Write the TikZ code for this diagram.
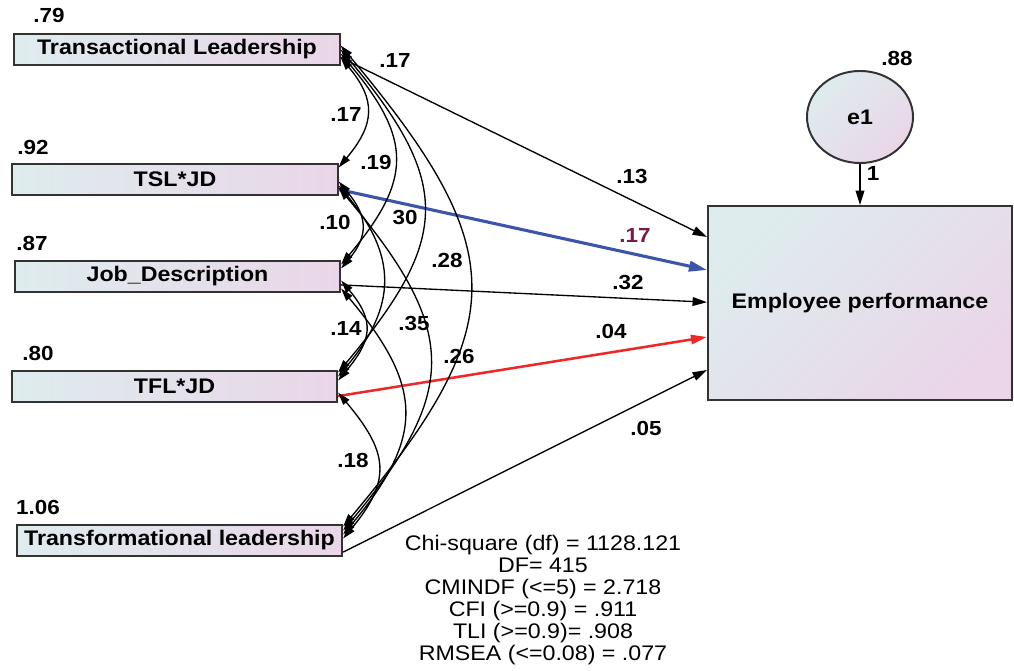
\documentclass[tikz,border=0pt]{standalone}
\usepackage{fontspec}
\setmainfont{Liberation Sans}[FakeStretch=1.1]
\usetikzlibrary{arrows.meta,shapes.geometric}
\definecolor{boxleft}{RGB}{222,236,238}
\definecolor{boxright}{RGB}{234,214,232}
\definecolor{boxline}{RGB}{50,50,50}
\definecolor{pathblue}{RGB}{60,85,170}
\definecolor{pathred}{RGB}{238,40,40}
\definecolor{estpurple}{RGB}{125,25,70}
\tikzset{
  obs/.style={draw=boxline, line width=1.4pt, left color=boxleft, right color=boxright,
    minimum width=8.13cm, minimum height=7.75mm, inner sep=0pt,
    font=\fontsize{15}{16}\selectfont\bfseries},
  est/.style={font=\fontsize{14.5}{15}\selectfont\bfseries, inner sep=0pt},
  reg/.style={line width=0.95pt, -{Triangle[length=3.6mm,width=2.2mm]}},
  cov/.style={line width=0.95pt, {Triangle[length=3.2mm,width=1.9mm]}-{Triangle[length=3.2mm,width=1.9mm]},
    out=-50, in=50, looseness=1.35},
}
\begin{document}
\begin{tikzpicture}[x=0.025cm,y=0.025cm]
\useasboundingbox (0,0) rectangle (1014,671);
% Observed variables
\node [obs] (tl) at (177,621.5) {Transactional Leadership};
\node [obs] (tsl) at (175,491.5) {TSL*JD};
\node [obs] (jd) at (177.5,394.5) {Job\_Description};
\node [obs] (tfl) at (174.5,284.5) {TFL*JD};
\node [obs] (tfr) at (179.5,130.5) {Transformational leadership};

% Outcome and error term
\node [obs, minimum width=7.6cm, minimum height=4.85cm, shading angle=45] (ep) at (860,368) {Employee performance};
\node [obs, ellipse, minimum width=2.65cm, minimum height=2.3cm, shading angle=45] (e1) at (860,554) {e1};
\draw [reg] (e1) -- (ep);
\node [est] (w1) at (873,498) {1};

% Variances
\node [est] (v1) at (49,656) {.79};
\node [est] (v2) at (33,524) {.92};
\node [est] (v3) at (32,428) {.87};
\node [est] (v4) at (38,318) {.80};
\node [est] (v5) at (38,164) {1.06};
\node [est] (v6) at (897,613) {.88};

% Regression paths
\draw [reg] ([yshift=-0.2cm]tl.east) -- ([yshift=1.65cm]ep.west);
\draw [reg, pathblue, line width=2.2pt, -{Triangle[length=4.5mm,width=2.6mm]}] ([yshift=-0.25cm]tsl.east) -- ([yshift=0.825cm]ep.west);
\draw [reg] ([yshift=-0.21cm]jd.east) -- ([yshift=0.02cm]ep.west);
\draw [reg, pathred, line width=1.8pt, -{Triangle[length=4mm,width=2.3mm]}] ([yshift=-0.24cm]tfl.east) -- ([yshift=-0.85cm]ep.west);
\draw [reg] ([yshift=-0.29cm]tfr.east) -- ([yshift=-1.675cm]ep.west);
\node [est] (p1) at (632,494) {.13};
\node [est, text=estpurple] (p2) at (635,436) {.17};
\node [est] (p3) at (628,388) {.32};
\node [est] (p4) at (611,340) {.04};
\node [est] (p5) at (646,243) {.05};

% Covariances
\draw [cov, looseness=1.3] ([yshift=-0.2cm]tl.east) to ([yshift=0.3cm]tsl.east);
\draw [cov] ([yshift=-0.1cm]tl.east) to ([yshift=0.3cm]jd.east);
\draw [cov, looseness=1.38] (tl.east) to ([yshift=0.35cm]tfl.east);
\draw [cov, looseness=1.41] ([yshift=0.1cm]tl.east) to ([yshift=0.35cm]tfr.east);
\draw [cov, looseness=1.3] ([yshift=-0.05cm]tsl.east) to ([yshift=0.2cm]jd.east);
\draw [cov, looseness=1.23] ([yshift=-0.15cm]tsl.east) to ([yshift=0.25cm]tfl.east);
\draw [cov, looseness=1.37] ([yshift=-0.2cm]tsl.east) to ([yshift=0.25cm]tfr.east);
\draw [cov, looseness=1.35] ([yshift=-0.1cm]jd.east) to ([yshift=0.15cm]tfl.east);
\draw [cov, looseness=1.33] ([yshift=-0.3cm]jd.east) to ([yshift=0.15cm]tfr.east);
\draw [cov, looseness=1.35] ([yshift=-0.15cm]tfl.east) to ([yshift=0.05cm]tfr.east);
\node [est] (c1) at (395,611) {.17};
\node [est] (c2) at (346,557) {.17};
\node [est] (c3) at (376,509) {.19};
\node [est] (c4) at (335,449) {.10};
\node [est] (c5) at (405,453) {30};
\node [est] (c6) at (447,411) {.28};
\node [est] (c7) at (346,343) {.14};
\node [est] (c8) at (414,347) {.35};
\node [est] (c9) at (459,315) {.26};
\node [est] (c10) at (353,211) {.18};

% Fit indices
\node [font=\fontsize{15}{15.6}\selectfont, align=center, inner sep=0pt] (fit) at (543,71)
  {Chi-square (df) = 1128.121\\DF= 415\\CMINDF (<=5) = 2.718\\CFI (>=0.9) = .911\\TLI (>=0.9)= .908\\RMSEA (<=0.08) = .077};
\end{tikzpicture}
\end{document}
